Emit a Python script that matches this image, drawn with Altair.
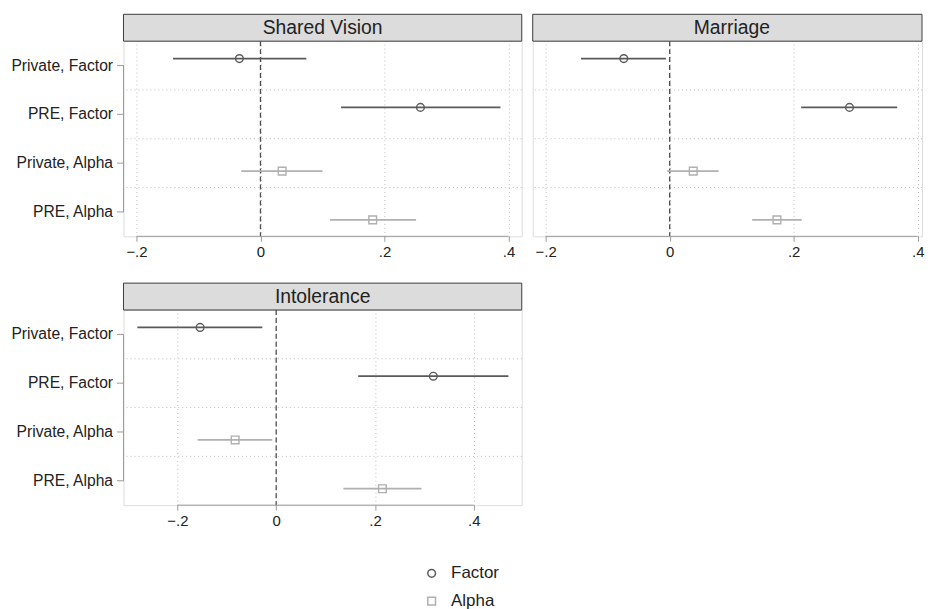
import altair as alt
import pandas as pd

FONT = "Liberation Sans"

panel_titles = ["Shared Vision", "Marriage", "Intolerance"]
categories = ["Private, Factor", "PRE, Factor", "Private, Alpha", "PRE, Alpha"]
series = ["Factor", "Factor", "Alpha", "Alpha"]
series_names = ["Factor", "Alpha"]
series_colors = ["#5a5a5a", "#b0b0b0"]
series_shapes = ["circle", "square"]

sv_est = [-0.034, 0.258, 0.035, 0.181]
sv_lo = [-0.141, 0.130, -0.031, 0.112]
sv_hi = [0.074, 0.387, 0.100, 0.251]

mar_est = [-0.074, 0.290, 0.038, 0.173]
mar_lo = [-0.143, 0.212, -0.004, 0.133]
mar_hi = [-0.006, 0.367, 0.079, 0.213]

int_est = [-0.154, 0.318, -0.083, 0.215]
int_lo = [-0.281, 0.166, -0.159, 0.136]
int_hi = [-0.028, 0.470, -0.008, 0.294]

x_ticks = [-0.2, 0.0, 0.2, 0.4]
ref_line = [0.0]

W, H, HEADER = 400, 196, 27
W2 = 391
AXIS_GRAY = "#9a9a9a"
GRID_GRAY = "#bdbdbd"

color_scale = alt.Scale(domain=series_names, range=series_colors)
shape_scale = alt.Scale(domain=series_names, range=series_shapes)
offsets = {"Factor": -7, "Alpha": 8}

legend = alt.Legend(
    title=None, orient="none", legendX=301, legendY=526, labelFontSize=17,
    labelFont=FONT, labelColor="#222222", symbolSize=60, symbolStrokeWidth=1.5,
    rowPadding=10, labelOffset=11, padding=0,
)

label_expr = ("datum.value == 0 ? '0' : "
              "replace(replace(format(datum.value, '.1f'), '0.', '.'), '-', '\u2212')")


def make_panel(title, est, lo, hi, domain, show_y, width):
    df = pd.DataFrame(dict(category=categories, series=series, est=est, lo=lo, hi=hi))
    xs = alt.Scale(domain=domain, nice=False, zero=False)
    ys = alt.Scale(domain=categories, paddingInner=0, paddingOuter=0)
    xax = alt.Axis(values=x_ticks, labelExpr=label_expr, title=None, domain=False,
                   grid=True, gridDash=[1, 3], gridColor=GRID_GRAY, gridWidth=1,
                   tickSize=5, tickColor=AXIS_GRAY, tickWidth=1, labelFontSize=15,
                   labelColor="#222222", labelPadding=3, labelFont=FONT)
    if show_y:
        yax = alt.Axis(title=None, domain=False, grid=False, tickSize=7,
                       tickColor=AXIS_GRAY, tickWidth=1, labelFontSize=15.7,
                       labelColor="#222222", labelPadding=4, labelFont=FONT)
    else:
        yax = None

    def Y(**kw):
        return alt.Y("category:N", scale=ys, axis=yax, **kw)

    layers = []
    hgrid = alt.Chart(pd.DataFrame({"category": categories[1:]})).mark_rule(
        strokeDash=[1, 3], color=GRID_GRAY, strokeWidth=1
    ).encode(y=Y(bandPosition=0))
    layers.append(hgrid)

    ref = alt.Chart(pd.DataFrame({"ref": ref_line})).mark_rule(
        strokeDash=[5, 3], color="#4d4d4d", strokeWidth=1.3
    ).encode(x=alt.X("ref:Q", scale=xs, axis=xax))
    layers.append(ref)

    xline = alt.Chart(pd.DataFrame({"lo": [min(x_ticks)], "hi": [max(x_ticks)]})).mark_rule(
        color=AXIS_GRAY, strokeWidth=1
    ).encode(x=alt.X("lo:Q", scale=xs, axis=xax), x2="hi:Q", y=alt.value(H))
    layers.append(xline)

    if show_y:
        bracket = alt.Chart(pd.DataFrame({"category": categories})).mark_line(
            color=AXIS_GRAY, strokeWidth=1
        ).encode(x=alt.value(0), y=Y())
        layers.append(bracket)

    base = alt.Chart(df)
    for s, c in zip(series_names, series_colors):
        sub = base.transform_filter(alt.datum.series == s)
        rule = sub.mark_rule(strokeWidth=1.8, color=c, yOffset=offsets[s]).encode(
            x=alt.X("lo:Q", scale=xs, axis=xax), x2="hi:Q", y=Y(),
        )
        pt = sub.mark_point(filled=False, size=60, strokeWidth=1.4, opacity=1,
                            yOffset=offsets[s]).encode(
            x=alt.X("est:Q", scale=xs, axis=xax), y=Y(),
            color=alt.Color("series:N", scale=color_scale, legend=legend),
            shape=alt.Shape("series:N", scale=shape_scale, legend=legend),
        )
        layers += [rule, pt]

    hd = alt.Data(values=[{"t": title}])
    rect = alt.Chart(hd).mark_rect(fill="#dcdcdc", stroke="#3c3c3c", strokeWidth=1).encode(
        x=alt.value(0), x2=alt.value(width), y=alt.value(-HEADER), y2=alt.value(0)
    )
    text = alt.Chart(hd).mark_text(fontSize=19.4, color="#222222", font=FONT, baseline="middle").encode(
        x=alt.value(W / 2), y=alt.value(-HEADER / 2), text="t:N"
    )
    layers += [rect, text]
    return alt.layer(*layers).properties(width=width, height=H)


p1 = make_panel(panel_titles[0], sv_est, sv_lo, sv_hi, [-0.2209, 0.4214], True, W)
p2 = make_panel(panel_titles[1], mar_est, mar_lo, mar_hi,
                [-0.2209, -0.2209 + (0.4214 + 0.2209) * W2 / W], False, W2)
p3 = make_panel(panel_titles[2], int_est, int_lo, int_hi, [-0.309, 0.497], True, W)

chart = alt.vconcat(alt.hconcat(p1, p2, spacing=9), p3, spacing=22).properties(
    padding={"left": 2, "top": 4, "right": 0, "bottom": 0},
    background="white",
).configure_view(stroke=None).configure(font=FONT)

chart.save("out.html", embed_options={"renderer": "svg", "actions": False})
